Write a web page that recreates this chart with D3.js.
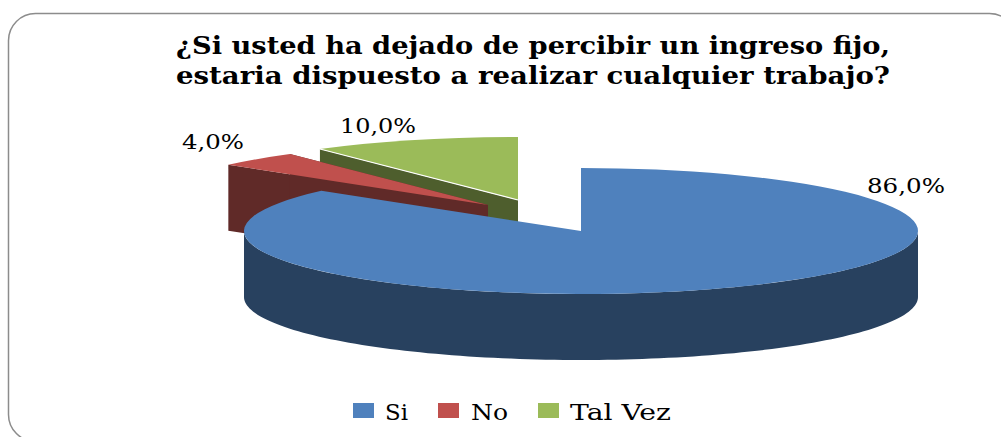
<!DOCTYPE html>
<html>
<head>
<meta charset="utf-8">
<script src="https://d3js.org/d3.v7.min.js"></script>
<style>
  html, body { margin: 0; background: #fff; }
  svg { display: block; }
  text { font-family: "DejaVu Serif", serif; fill: #000; }
</style>
</head>
<body>
<div id="chart"></div>
<script>
const categories = ["Si", "No", "Tal Vez"];
const values = [86.0, 4.0, 10.0];
const titleLines = [
  "¿Si usted ha dejado de percibir un ingreso fijo,",
  "estaria dispuesto a realizar cualquier trabajo?"
];

const TOP_COLORS = ["#4F81BD", "#C0504D", "#9BBB59"];
const SIDE_COLORS = ["#28415F", "#602A28", "#4E5E2D"];

// pie geometry
const rx = 337, ry = 63, depth = 66;
const CENTERS = [[581, 231], [488, 205], [518, 200]];

// label boxes: x start, width, baseline
const LABEL_POS = [[867, 78, 193], [182, 62, 149], [340, 76, 133]];
const LEGEND_POS = [[353, 385, 23], [438, 471, 37], [538, 570, 101]];

const svg = d3.select("#chart").append("svg")
  .attr("width", 1001)
  .attr("height", 437);

// frame runs off the right and bottom of the window
svg.append("rect")
  .attr("x", 8.5).attr("y", 13.5)
  .attr("width", 1008).attr("height", 428)
  .attr("rx", 27).attr("ry", 27)
  .attr("fill", "#fff")
  .attr("stroke", "#8C8C8C")
  .attr("stroke-width", 1.5);

const title = svg.append("g");
titleLines.forEach((t, i) => {
  title.append("text")
    .attr("x", 176)
    .attr("y", 54 + i * 30)
    .attr("font-size", 24)
    .attr("font-weight", "bold")
    .attr("textLength", 714)
    .attr("lengthAdjust", "spacingAndGlyphs")
    .text(t);
});

const slices = d3.pie().sort(null)(values);
const arc = d3.arc().innerRadius(0).outerRadius(rx);

// flat projection of an angle on the tilted disc
const px = (c, a) => c[0] + rx * Math.sin(a);
const py = (c, a) => c[1] - ry * Math.cos(a);
const line = d3.line();

function sideFace(c, a) {
  const x = px(c, a), y = py(c, a);
  return line([[c[0], c[1]], [x, y], [x, y + depth], [c[0], c[1] + depth]]) + "Z";
}

function frontWall(c, a0, a1) {
  const from = Math.max(a0, Math.PI / 2), to = Math.min(a1, Math.PI * 1.5);
  if (from >= to) return null;
  const steps = d3.range(0, 121).map(i => from + (to - from) * i / 120);
  const upper = steps.map(a => [px(c, a), py(c, a)]);
  const lower = steps.slice().reverse().map(a => [px(c, a), py(c, a) + depth]);
  return line(upper.concat(lower)) + "Z";
}

// paint back to front: green, red, then the big blue slice
[2, 1, 0].forEach(i => {
  const s = slices[i], c = CENTERS[i];
  const g = svg.append("g");
  if (i > 0) {
    g.append("path").attr("d", sideFace(c, s.startAngle)).attr("fill", SIDE_COLORS[i]);
    g.append("path").attr("d", sideFace(c, s.endAngle)).attr("fill", SIDE_COLORS[i]);
  }
  const wall = frontWall(c, s.startAngle, s.endAngle);
  if (wall) g.append("path").attr("d", wall).attr("fill", SIDE_COLORS[i]);
  g.append("path")
    .attr("transform", `translate(${c[0]},${c[1]}) scale(1,${ry / rx})`)
    .attr("d", arc(s))
    .attr("fill", TOP_COLORS[i]);
});

// thin white seam along the green slice's cut edge
svg.append("path")
  .attr("d", line([CENTERS[2], [px(CENTERS[2], slices[2].startAngle), py(CENTERS[2], slices[2].startAngle)]]))
  .attr("stroke", "#fff")
  .attr("stroke-width", 1.2)
  .attr("fill", "none");

values.forEach((v, i) => {
  svg.append("text")
    .attr("x", LABEL_POS[i][0])
    .attr("y", LABEL_POS[i][2])
    .attr("font-size", 20.5)
    .attr("textLength", LABEL_POS[i][1])
    .attr("lengthAdjust", "spacingAndGlyphs")
    .text(v.toFixed(1).replace(".", ",") + "%");
});

const legend = svg.append("g");
categories.forEach((c, i) => {
  legend.append("rect")
    .attr("x", LEGEND_POS[i][0])
    .attr("y", 403)
    .attr("width", 21)
    .attr("height", 15)
    .attr("fill", TOP_COLORS[i]);
  legend.append("text")
    .attr("x", LEGEND_POS[i][1])
    .attr("y", 420)
    .attr("font-size", 22)
    .attr("textLength", LEGEND_POS[i][2])
    .attr("lengthAdjust", "spacingAndGlyphs")
    .text(c);
});
</script>
</body>
</html>
